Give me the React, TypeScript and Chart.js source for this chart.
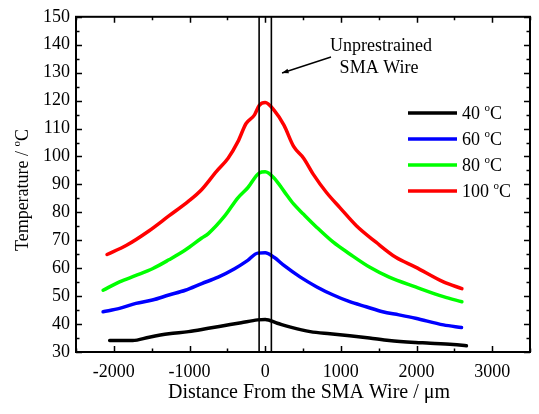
import React, { useEffect, useRef } from 'react';
import { Chart, registerables } from 'chart.js';

Chart.register(...registerables);

const FONT = "'Liberation Serif', 'Times New Roman', serif";

// 40 °C
const X_40 = [-2055, -1751, -1533, -1273, -1012, -751, -534, -317, -99, 0, 161, 335, 596, 857, 1117, 1378, 1639, 1987, 2139, 2486, 2660];
const T_40 = [34.1, 34.1, 35.3, 36.5, 37.3, 38.5, 39.5, 40.5, 41.5, 41.6, 40.3, 38.9, 37.3, 36.5, 35.8, 35.0, 34.1, 33.4, 33.2, 32.7, 32.2];
// 60 °C
const X_60 = [-2142, -1925, -1708, -1490, -1273, -1056, -838, -621, -404, -230, -99, 0, 117, 248, 465, 683, 900, 1117, 1335, 1552, 1769, 1987, 2356, 2595];
const T_60 = [44.4, 45.6, 47.4, 48.6, 50.4, 52.1, 54.5, 56.8, 59.8, 62.8, 65.4, 65.5, 63.9, 61.0, 56.8, 53.3, 50.4, 48.0, 46.2, 44.4, 43.3, 42.1, 39.7, 38.8];
// 80 °C
const X_80 = [-2142, -1925, -1708, -1490, -1273, -1056, -838, -751, -534, -360, -230, -78, 0, 117, 248, 378, 508, 683, 900, 1117, 1378, 1639, 1987, 2356, 2600];
const T_80 = [52.1, 55.1, 57.4, 59.8, 63.0, 66.5, 70.8, 72.4, 78.7, 85.2, 88.8, 94.1, 94.5, 92.3, 87.6, 82.9, 79.3, 74.6, 69.3, 65.1, 60.4, 56.8, 53.3, 49.8, 48.0];
// 100 °C
const X_100 = [-2090, -1838, -1533, -1273, -1012, -838, -643, -490, -360, -252, -143, -78, 0, 117, 248, 378, 508, 639, 813, 987, 1205, 1465, 1726, 1987, 2356, 2600];
const T_100 = [64.9, 68.1, 73.4, 78.7, 84.0, 88.2, 94.7, 99.4, 105.3, 111.8, 114.8, 118.3, 119.3, 116.6, 111.2, 103.5, 99.4, 93.5, 87.0, 81.7, 75.2, 69.3, 63.9, 60.4, 55.1, 52.7];

const SERIES_LABELS = ['40', '60', '80', '100'];
const SERIES_COLORS = ['#000000', '#0000ff', '#00ff00', '#ff0000'];
const SERIES_X = [X_40, X_60, X_80, X_100];
const SERIES_T = [T_40, T_60, T_80, T_100];

const WIRE_EDGES = [-80, 82];
const X_MIN = -2500;
const X_MAX = 3500;
const Y_MIN = 30;
const Y_MAX = 150;
const X_STEP = 1000;
const Y_STEP = 10;

const X_TITLE = 'Distance From the SMA Wire / \u03bcm';
const Y_TITLE = 'Temperature / ';
const NOTE_LINES = ['Unprestrained', 'SMA Wire'];

function drawSupText(ctx: CanvasRenderingContext2D, x: number, y: number, main: string, size: number) {
  ctx.font = `${size}px ${FONT}`;
  ctx.fillText(main, x, y);
  let w = ctx.measureText(main).width;
  const supSize = Math.round(size * 0.62);
  ctx.font = `${supSize}px ${FONT}`;
  ctx.fillText('o', x + w, y - size * 0.45);
  w += ctx.measureText('o').width;
  ctx.font = `${size}px ${FONT}`;
  ctx.fillText('C', x + w, y);
  w += ctx.measureText('C').width;
  return w;
}

const decor = {
  id: 'decor',
  afterDatasetsDraw(chart: any) {
    const { ctx, chartArea: a, scales } = chart;
    const xs = scales.x;
    const ys = scales.y;
    ctx.save();
    ctx.strokeStyle = '#000';
    ctx.fillStyle = '#000';

    // wire edge lines
    ctx.lineWidth = 1.6;
    WIRE_EDGES.forEach((v) => {
      const px = xs.getPixelForValue(v);
      ctx.beginPath();
      ctx.moveTo(px, a.top);
      ctx.lineTo(px, a.bottom);
      ctx.stroke();
    });

    // frame
    ctx.lineWidth = 2;
    ctx.strokeRect(a.left, a.top, a.right - a.left, a.bottom - a.top);

    // inward ticks
    ctx.lineWidth = 1.5;
    for (let v = X_MIN; v <= X_MAX; v += X_STEP / 2) {
      const major = v % X_STEP === 0;
      const len = major ? 6 : 3.5;
      const px = Math.round(xs.getPixelForValue(v)) + 0.5;
      ctx.beginPath();
      ctx.moveTo(px, a.bottom);
      ctx.lineTo(px, a.bottom - len);
      ctx.moveTo(px, a.top);
      ctx.lineTo(px, a.top + len);
      ctx.stroke();
    }
    for (let v = Y_MIN; v <= Y_MAX; v += Y_STEP / 2) {
      const major = v % Y_STEP === 0;
      const len = major ? 6 : 3.5;
      const py = Math.round(ys.getPixelForValue(v)) + 0.5;
      ctx.beginPath();
      ctx.moveTo(a.left, py);
      ctx.lineTo(a.left + len, py);
      ctx.moveTo(a.right, py);
      ctx.lineTo(a.right - len, py);
      ctx.stroke();
    }

    // annotation
    ctx.textAlign = 'center';
    ctx.textBaseline = 'alphabetic';
    ctx.font = `18px ${FONT}`;
    ctx.fillText(NOTE_LINES[0], 381, 51);
    ctx.fillText(NOTE_LINES[1], 379, 73);
    const ax0 = 331, ay0 = 57, ax1 = 282, ay1 = 73;
    ctx.lineWidth = 1.4;
    ctx.beginPath();
    ctx.moveTo(ax0, ay0);
    ctx.lineTo(ax1, ay1);
    ctx.stroke();
    const ang = Math.atan2(ay1 - ay0, ax1 - ax0);
    const hl = 7;
    ctx.beginPath();
    ctx.moveTo(ax1, ay1);
    ctx.lineTo(ax1 - hl * Math.cos(ang - 0.35), ay1 - hl * Math.sin(ang - 0.35));
    ctx.lineTo(ax1 - hl * Math.cos(ang + 0.35), ay1 - hl * Math.sin(ang + 0.35));
    ctx.closePath();
    ctx.fill();

    // legend
    ctx.textAlign = 'left';
    SERIES_LABELS.forEach((lab, i) => {
      const yy = 113 + i * 26;
      ctx.strokeStyle = SERIES_COLORS[i];
      ctx.lineWidth = 3.5;
      ctx.beginPath();
      ctx.moveTo(408, yy);
      ctx.lineTo(457, yy);
      ctx.stroke();
      ctx.fillStyle = '#000';
      drawSupText(ctx, 462, yy + 6, lab + ' ', 18);
    });

    // x title
    ctx.fillStyle = '#000';
    ctx.textAlign = 'center';
    ctx.font = `20px ${FONT}`;
    ctx.fillText(X_TITLE, (a.left + a.right) / 2 + 6, 398);

    // y title
    ctx.save();
    ctx.translate(28, 190);
    ctx.rotate(-Math.PI / 2);
    ctx.font = `18px ${FONT}`;
    const w1 = ctx.measureText(Y_TITLE).width;
    ctx.font = `11px ${FONT}`;
    const w2 = ctx.measureText('o').width;
    ctx.font = `18px ${FONT}`;
    const w3 = ctx.measureText('C').width;
    ctx.textAlign = 'left';
    drawSupText(ctx, -(w1 + w2 + w3) / 2, 0, Y_TITLE, 18);
    ctx.restore();

    ctx.restore();
  },
};

export default function App() {
  const ref = useRef<HTMLCanvasElement>(null);
  useEffect(() => {
    document.body.style.margin = '0';
    const canvas = ref.current!;
    const datasets = SERIES_LABELS.map((lab, i) => ({
      label: lab + ' \u00b0C',
      data: SERIES_X[i].map((x, j) => ({ x, y: SERIES_T[i][j] })),
      borderColor: SERIES_COLORS[i],
      backgroundColor: SERIES_COLORS[i],
      borderWidth: 3.5,
      pointRadius: 0,
      cubicInterpolationMode: 'monotone' as const,
      borderCapStyle: 'round' as const,
      borderJoinStyle: 'round' as const,
      fill: false,
    }));
    const chart = new Chart(canvas, {
      type: 'line',
      data: { datasets },
      options: {
        animation: false,
        responsive: false,
        maintainAspectRatio: false,
        layout: { padding: { top: 14, right: 1, left: 0, bottom: 0 } },
        plugins: { legend: { display: false }, tooltip: { enabled: false }, title: { display: false } },
        scales: {
          x: {
            type: 'linear',
            min: X_MIN,
            max: X_MAX,
            afterFit: (s: any) => { s.height = 62; },
            grid: { display: false, drawTicks: false },
            border: { display: false },
            ticks: {
              stepSize: X_STEP / 2,
              autoSkip: false,
              maxRotation: 0,
              padding: 9,
              color: '#000',
              font: { family: FONT, size: 18 },
              callback: (v: any) => (Number(v) % X_STEP === 0 && Number(v) > X_MIN && Number(v) < X_MAX ? String(v) : ''),
            },
          },
          y: {
            type: 'linear',
            min: Y_MIN,
            max: Y_MAX,
            afterFit: (s: any) => { s.width = 76; },
            grid: { display: false, drawTicks: false },
            border: { display: false },
            ticks: {
              stepSize: Y_STEP,
              autoSkip: false,
              padding: 6,
              color: '#000',
              font: { family: FONT, size: 18 },
              callback: (v: any) => String(v),
            },
          },
        },
      },
      plugins: [decor],
    });
    return () => chart.destroy();
  }, []);
  return (
    <div style={{ position: 'absolute', left: 0, top: 0, width: 539, height: 414 }}>
      <canvas ref={ref} width={539} height={414} style={{ display: 'block', width: 539, height: 414 }} />
    </div>
  );
}
